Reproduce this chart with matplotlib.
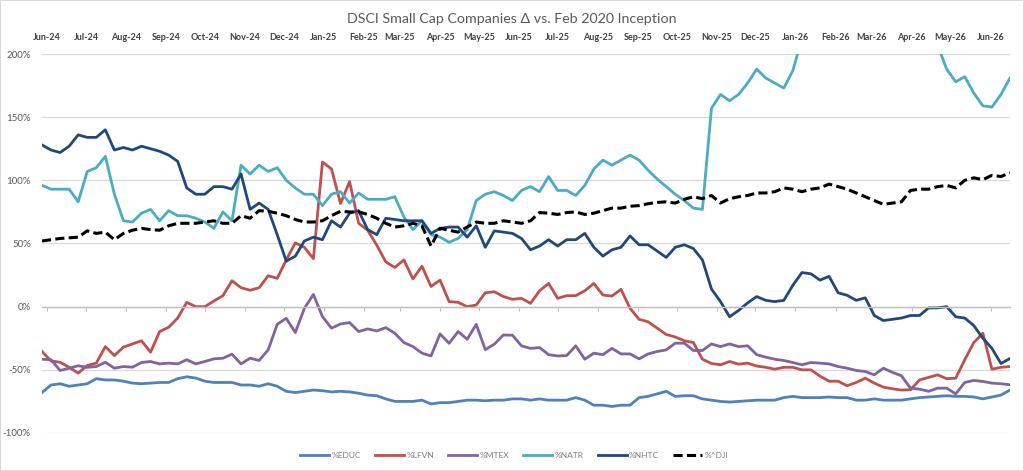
import matplotlib
matplotlib.use("Agg")
import matplotlib.pyplot as plt
import matplotlib.dates as mdates
from matplotlib.patches import Rectangle
from matplotlib.ticker import FuncFormatter
import pandas as pd

plt.rcParams['font.family'] = ['Lato', 'DejaVu Sans']

# weekly closes, % change vs Feb 2020
dates = pd.date_range('2024-05-28', periods=108, freq='7D')

educ = [-68, -62, -61, -63, -62, -61, -57, -58, -58, -59, -60.5, -61, -60.5, -60, -60, -57, -55.5, -56.5, -59, -60,
        -60, -60, -62, -62, -63, -61, -63,
        -67, -68, -67, -66, -66.5, -67.5, -67, -67.5, -68.5, -70, -70.5, -73, -75, -75, -75, -74, -77, -76, -76, -75,
        -74, -74, -74.5, -74, -74, -73, -73,
        -74, -73, -74, -74, -74, -72, -74, -78, -78, -79, -78, -78, -72, -71, -69, -67, -71, -70.5, -70.5, -73,
        -74, -75, -75.5, -75, -74.5, -74, -74,
        -74, -72, -71, -72, -72, -72, -71.5, -72, -72, -74, -74, -73, -74, -74, -74, -73, -72, -71.5, -71, -70.5,
        -71, -71, -71.5, -73, -71.5, -70, -66]

lfvn = [-35.5, -43, -44, -48, -52.6, -46.6, -44.7, -31.6, -38.7, -32, -29.5, -27, -36, -19.7, -16.3, -9, 3.4, 0, 0,
        4.5, 8.7, 20.5, 15, 13, 15, 24.5, 22.4,
        37, 50.5, 47, 38, 114.5, 109, 81.6, 99, 66, 60.5, 48.7, 35.5, 31, 37, 22, 32, 16, 21, 4, 3.4, 0, 1.3, 11,
        11.8, 8, 5.8, 6.6, 2.6,
        12.6, 18.4, 6.6, 8.7, 8.7, 12.6, 18.4, 9.2, 8.4, 13.7, -1.3, -10, -12, -17, -22, -24, -27, -28.4, -41.6, -45,
        -46, -43.4, -45.5, -44.7, -47, -48,
        -49.5, -48, -48, -50, -50, -55, -59, -59, -62.6, -60, -56.6, -60.5, -63.7, -65, -66, -65.8, -58, -56, -54,
        -57, -56.6, -42, -28.4, -21, -49.5, -48, -47.4]

mtex = [-41.6, -42, -50.5, -48.7, -46.8, -48, -47.4, -44, -48.7, -47.4, -47.9, -44.2, -43.4, -45.3, -44.7, -45.3, -42,
        -45.3, -43.4, -41.3, -40.8, -37.6, -45.3, -40.8, -42.6, -34.2, -14,
        -9.2, -20.5, -1.3, 9.7, -7.9, -17, -13.7, -12.6, -19.7, -17.6, -19.2, -16.6, -21, -28.4, -31.6, -36.8, -39,
        -21.6, -29, -19.7, -25.8, -14, -34, -29.7, -22.4, -22.6, -31, -33,
        -32.4, -38, -39, -38.7, -31, -41.6, -36.8, -38, -33, -37.4, -37.4, -41.3, -37.4, -35.5, -34.2, -28.9, -28.9,
        -34.7, -34.7, -29.5, -31.6, -29.5, -31.6, -31, -38, -40,
        -41.6, -42.6, -44.2, -46, -44.2, -44.7, -45.3, -47.4, -48.7, -50.5, -51.3, -54, -48.7, -52, -54.7, -64.5,
        -65.3, -67, -64.5, -64.5, -69, -60, -58.4, -59.2, -60.5, -61, -61.8]

natr = [96, 93, 93, 93, 83, 107, 110, 119, 89, 68, 67, 74, 77, 68, 76, 72, 72, 70, 67, 62, 75, 68, 112, 105, 112,
        107, 110, 100,
        94, 89, 89, 80, 89, 91, 82, 90, 85, 85, 85, 87, 71, 61, 68, 57, 55, 51, 54, 61, 84, 89, 91, 88, 84, 92, 95,
        91, 103, 92, 92, 88, 96, 109, 116, 112, 116, 120, 116, 108, 101, 95, 89, 84, 78, 77, 157, 168, 163, 168, 177,
        188, 181,
        177, 173, 187,
        # off the top of the chart (clipped at 200%)
        212, 225, 238, 231, 246, 240, 255, 262, 250, 244, 236, 248, 241, 229, 218, 207,
        188, 178, 182, 169, 159, 158, 168, 181]

nhtc = [128, 124, 122, 127, 136, 134, 134, 140, 124, 126, 124, 127, 125, 123, 120, 115, 94, 89, 89, 95, 95, 93, 105,
        77, 82, 77, 57, 36,
        40, 52, 55, 53, 68, 63, 74, 76, 61, 57, 70, 69, 68, 68, 68, 58, 62, 63, 63, 55, 64, 47, 60, 59, 58, 54, 45,
        48, 53, 48, 53, 53, 58, 47, 40, 45, 47, 56, 49, 49, 44, 39, 47, 49, 46, 37, 14, 4, -8, -3, 3, 8, 5, 4, 5,
        17, 27, 26, 21, 24, 11, 9, 5, 7, -7, -11, -10, -9, -7, -7, -1, -1, 0, -8, -9, -15, -25, -33, -45, -41]

dji = [52, 53, 54, 54.5, 55, 60, 58, 59, 53, 58, 60.5, 62, 61, 60.5, 64, 66, 66, 66, 67, 68, 66, 66, 72, 70, 76,
       75.5, 74, 72,
       69, 67, 67, 68, 72, 75.5, 75, 75, 73, 70, 66, 63, 64, 66, 64, 48, 62, 60.5, 59, 63, 67, 66, 66, 68, 67, 66, 68,
       74.5, 74, 73, 74.5, 75, 73, 74, 76, 78, 78, 79.5, 80, 81.5, 82.5, 83, 82, 85, 87, 85.5, 88, 82, 85.5, 87, 88,
       90,
       90, 91, 94, 93, 91, 93, 94, 97, 95, 93, 90, 87, 84, 81, 82, 83, 92, 93, 93, 95, 96, 94, 100, 102, 100.5, 104,
       103, 106]

series = [('%EDUC', educ, '#4F81BD'), ('%LFVN', lfvn, '#C0504D'), ('%MTEX', mtex, '#8064A2'),
          ('%NATR', natr, '#4BACC6'), ('%NHTC', nhtc, '#1F497D')]

fig = plt.figure(figsize=(10.24, 4.71), dpi=100)
fig.patches.append(Rectangle((0, 0), 1, 1, transform=fig.transFigure, fill=False,
                             edgecolor='#d9d9d9', linewidth=1.5))
ax = fig.add_axes([42 / 1024, 1 - 433 / 471, 968 / 1024, 379 / 471])

for name, vals, col in series:
    ax.plot(dates, vals, color=col, lw=2.0, label=name, solid_joinstyle='round')
ax.plot(dates, dji, color='black', lw=2.2, linestyle=(0, (3, 1.4)), label='%^DJI')

ax.set_ylim(-100, 200)
ax.set_yticks(range(-100, 201, 50))
ax.yaxis.set_major_formatter(FuncFormatter(lambda v, p: '%d%%' % v))
ax.set_xlim(dates[0], dates[-1])
ax.xaxis.set_major_locator(mdates.MonthLocator())
ax.xaxis.set_major_formatter(mdates.DateFormatter('%b-%y'))

ax.grid(axis='y', color='#d9d9d9', lw=0.9)
ax.set_axisbelow(True)
for s in ['top', 'right', 'left']:
    ax.spines[s].set_visible(False)
ax.spines['bottom'].set_position(('data', 0))
ax.spines['bottom'].set_color('#bfbfbf')
ax.spines['bottom'].set_linewidth(1.0)

ax.tick_params(axis='x', bottom=True, top=False, labelbottom=False, labeltop=True,
               length=3, color='#bfbfbf', labelsize=6.5, labelcolor='#404040', pad=6)
ax.tick_params(axis='y', length=0, labelsize=7, labelcolor='#595959', pad=8)
for lab in ax.get_xticklabels():
    lab.set_fontweight('bold')

fig.text(0.5, 1 - 19 / 471, 'DSCI Small Cap Companies Δ vs. Feb 2020 Inception',
         ha='center', va='center', fontsize=10.3, color='#595959')

fig.legend(loc='center', bbox_to_anchor=(0.502, 1 - 455 / 471), ncol=6, frameon=False,
           fontsize=6, labelcolor='#7f7f7f', handlelength=3.5, handletextpad=0.25,
           columnspacing=1.7)

fig.savefig('out.png', dpi=100)
